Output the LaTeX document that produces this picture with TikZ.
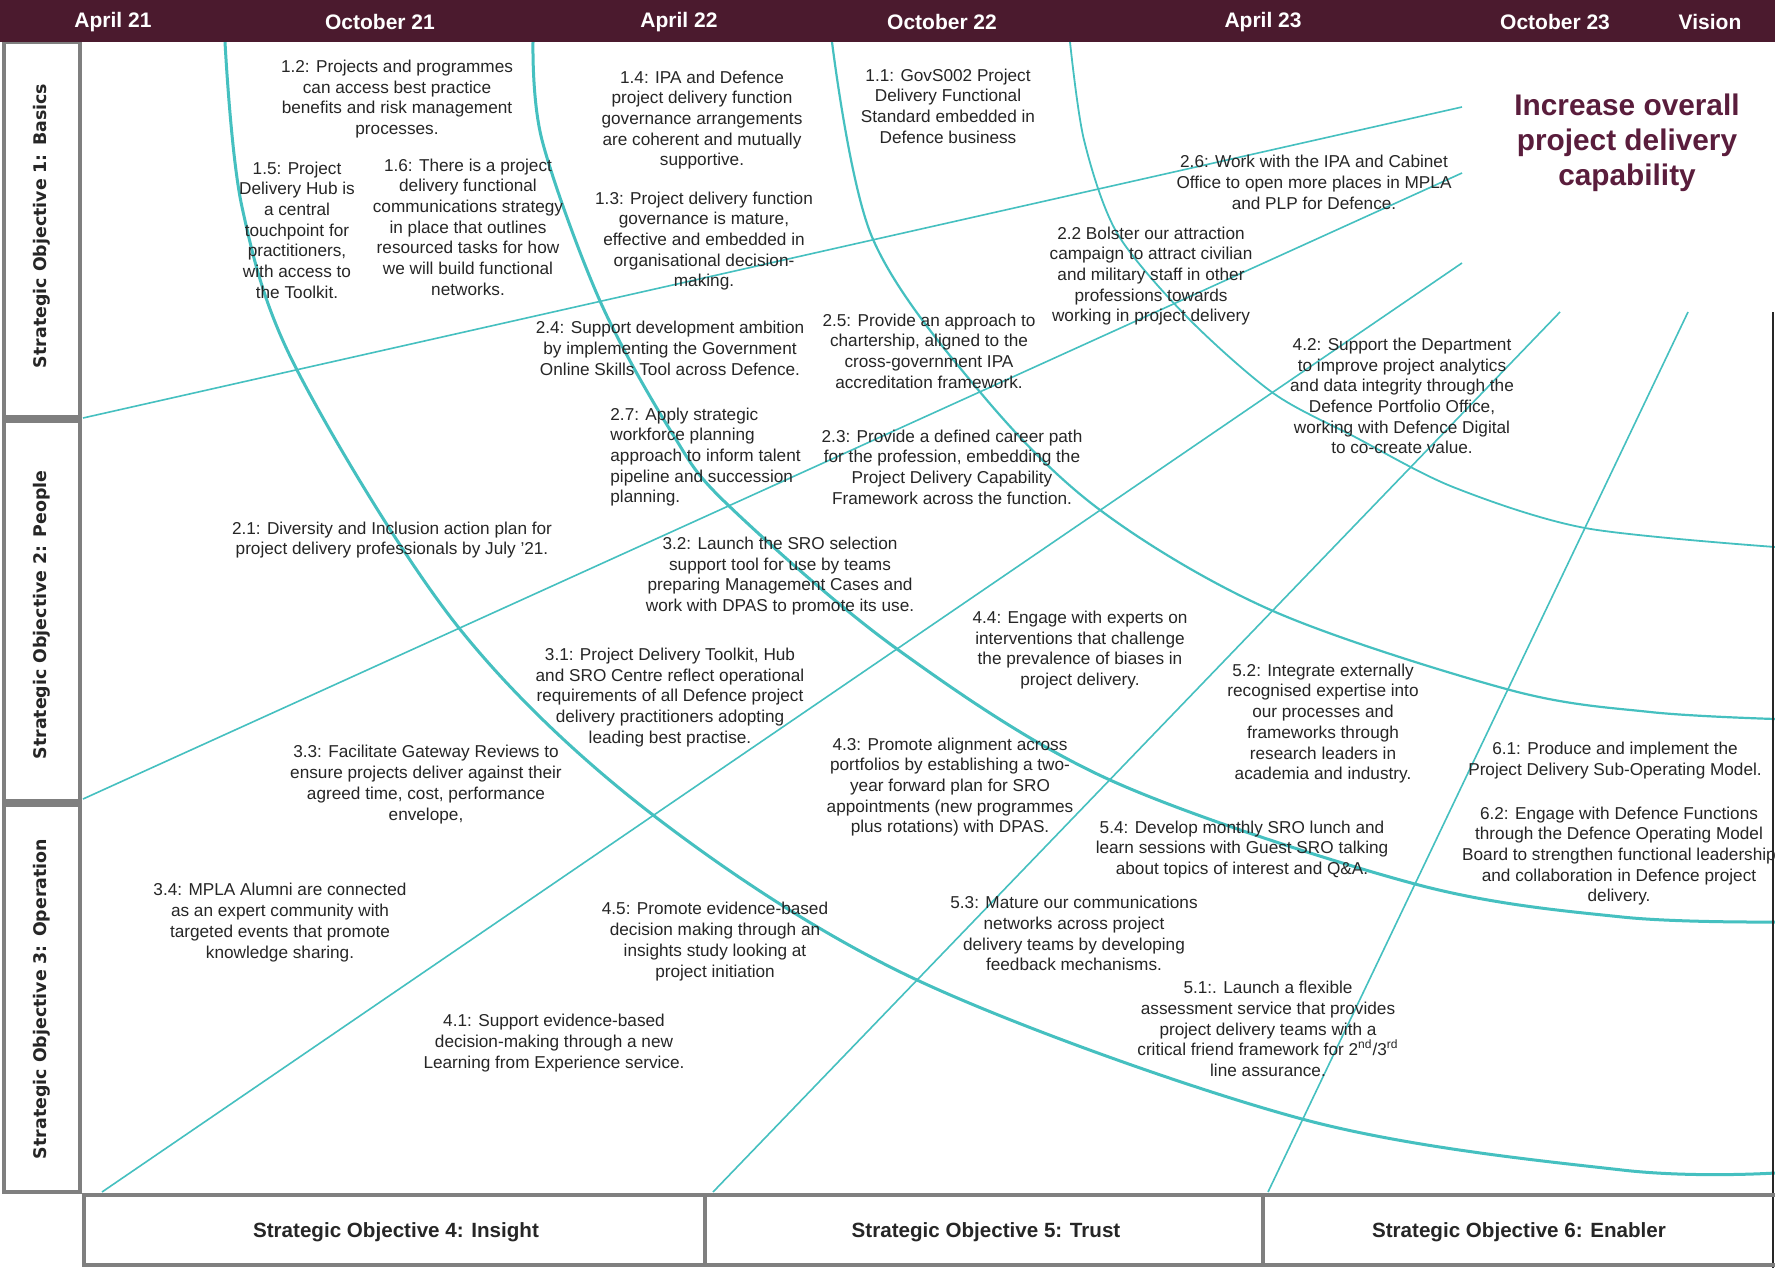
\documentclass[tikz,border=0pt]{standalone}
\usepackage{fontspec}
\setmainfont{Liberation Sans}
\newfontfamily\labfont{DejaVu Sans}
\definecolor{hdr}{HTML}{4B1A2E}
\definecolor{vis}{HTML}{5A1D3C}
\definecolor{tl}{HTML}{45C0C0}
\definecolor{bx}{HTML}{7F7F7F}
\definecolor{txt}{HTML}{262626}
\tikzset{
 item/.style={align=center, inner sep=0pt, text=txt, font=\fontsize{8.6pt}{10.35pt}\selectfont},
 month/.style={text=white, font=\fontsize{10.5pt}{12pt}\selectfont\bfseries, inner sep=0pt},
 sidebox/.style={draw=bx, line width=2pt},
 sidelab/.style={rotate=90, text=txt, font=\labfont\fontsize{8.7pt}{10pt}\selectfont\bfseries, inner sep=0pt},
 botlab/.style={text=txt, font=\fontsize{10.3pt}{12pt}\selectfont\bfseries, inner sep=0pt},
 arcthick/.style={draw=tl, line width=1.5pt},
 arcmid/.style={draw=tl, line width=1.1pt},
 arcthin/.style={draw=tl, line width=0.9pt},
 ray/.style={draw=tl, line width=0.8pt},
}
\begin{document}
\begin{tikzpicture}[x=0.5pt,y=-0.5pt]
\useasboundingbox (0,0) rectangle (1775,1268);
\fill[white] (0,0) rectangle (1775,1268);

% arcs
\draw[arcthick] plot[smooth, tension=0.55] coordinates {(225,42) (242,207) (297,370) (459,628) (653,815) (917,980) (1302,1119) (1622,1170) (1775,1173)};
\draw[arcthick] plot[smooth, tension=0.55] coordinates {(533,42) (542,140) (600,301) (672,433) (728,505) (897,649) (1110,780) (1415,884) (1622,917) (1775,922)};
\draw[arcmid] plot[smooth, tension=0.55] coordinates {(832,42) (872,237) (980,392) (1100,510) (1273,611) (1510,690) (1650,712) (1775,719)};
\draw[arcthin] plot[smooth, tension=0.5] coordinates {(1070,42) (1084,140) (1117,233) (1187,317) (1273,393) (1355,437) (1453,487) (1585,528) (1775,547)};

% rays
\draw[ray] (83,418) -- (1462,107);
\draw[ray] (83,799) -- (1462,173);
\draw[ray] (102,1192) -- (1462,263);
\draw[ray] (713,1192) -- (1560,312);
\draw[ray] (1268,1192) -- (1688,312);

% right border
\draw[black!85, line width=1pt] (1773,312) -- (1773,1268);

% side boxes
\draw[sidebox] (4,42) rectangle (80,417);
\draw[sidebox] (4,421) rectangle (80,801);
\draw[sidebox] (4,805) rectangle (80,1192);
\node[sidelab] (so1) at (42,226) {Strategic Objective 1: Basics};
\node[sidelab] (so2) at (42,615) {Strategic Objective 2: People};
\node[sidelab] (so3) at (42,999) {Strategic Objective 3: Operation};

% bottom boxes
\draw[sidebox] (84,1195) rectangle (705,1265);
\draw[sidebox] (705,1195) rectangle (1263,1265);
\draw[sidebox] (1263,1195) rectangle (1780,1265);
\node[botlab] (so4) at (396,1232) {Strategic Objective 4: Insight};
\node[botlab] (so5) at (986,1232) {Strategic Objective 5: Trust};
\node[botlab] (so6) at (1519,1232) {Strategic Objective 6: Enabler};

% header
\fill[hdr] (0,0) rectangle (1775,42);
\node[month] (m1) at (113,22) {April 21};
\node[month] (m2) at (380,22) {October 21};
\node[month] (m3) at (679,22) {April 22};
\node[month] (m4) at (942,22) {October 22};
\node[month] (m5) at (1263,22) {April 23};
\node[month] (m6) at (1555,22) {October 23};
\node[month] (m7) at (1710,22) {Vision};

\node[align=center, inner sep=0pt, text=vis, font=\fontsize{14.9pt}{17.5pt}\selectfont\bfseries] (vision) at (1627,143) {Increase overall\\project delivery\\capability};

% items
\node[item] (t12) at (397,99) {1.2: Projects and programmes\\can access best practice\\benefits and risk management\\processes.};
\node[item] (t14) at (702,120) {1.4: IPA and Defence\\project delivery function\\governance arrangements\\are coherent and mutually\\supportive.};
\node[item] (t11) at (948,106) {1.1: GovS002 Project\\Delivery Functional\\Standard embedded in\\Defence business};
\node[item] (t15) at (297,230) {1.5: Project\\Delivery Hub is\\a central\\touchpoint for\\practitioners,\\with access to\\the Toolkit.};
\node[item] (t16) at (468,227) {1.6: There is a project\\delivery functional\\communications strategy\\in place that outlines\\resourced tasks for how\\we will build functional\\networks.};
\node[item] (t13) at (704,241) {1.3: Project delivery function\\governance is mature,\\effective and embedded in\\organisational decision-\\making.};
\node[item] (t26) at (1314,182.5) {2.6: Work with the IPA and Cabinet\\Office to open more places in MPLA\\and PLP for Defence.};
\node[item] (t22) at (1151,276) {2.2 Bolster our attraction\\campaign to attract civilian\\and military staff in other\\professions towards\\working in project delivery};
\node[item] (t24) at (670,348.5) {2.4: Support development ambition\\by implementing the Government\\Online Skills Tool across Defence.};
\node[item] (t25) at (929,351) {2.5: Provide an approach to\\chartership, aligned to the\\cross-government IPA\\accreditation framework.};
\node[item] (t42) at (1402,396) {4.2: Support the Department\\to improve project analytics\\and data integrity through the\\Defence Portfolio Office,\\working with Defence Digital\\to co-create value.};
\node[item, align=left, anchor=west] (t27) at (610,457) {2.7: Apply strategic\\workforce planning\\approach to inform talent\\pipeline and succession\\planning.};
\node[item] (t23) at (952,467) {2.3: Provide a defined career path\\for the profession, embedding the\\Project Delivery Capability\\Framework across the function.};
\node[item] (t21) at (392,540) {2.1: Diversity and Inclusion action plan for\\project delivery professionals by July ’21.};
\node[item] (t32) at (780,576) {3.2: Launch the SRO selection\\support tool for use by teams\\preparing Management Cases and\\work with DPAS to promote its use.};
\node[item] (t44) at (1080,650) {4.4: Engage with experts on\\interventions that challenge\\the prevalence of biases in\\project delivery.};
\node[item] (t31) at (670,697.5) {3.1: Project Delivery Toolkit, Hub\\and SRO Centre reflect operational\\requirements of all Defence project\\delivery practitioners adopting\\leading best practise.};
\node[item] (t52) at (1323,723.5) {5.2: Integrate externally\\recognised expertise into\\our processes and\\frameworks through\\research leaders in\\academia and industry.};
\node[item] (t33) at (426,784.5) {3.3: Facilitate Gateway Reviews to\\ensure projects deliver against their\\agreed time, cost, performance\\envelope,};
\node[item] (t43) at (950,787) {4.3: Promote alignment across\\portfolios by establishing a two-\\year forward plan for SRO\\appointments (new programmes\\plus rotations) with DPAS.};
\node[item] (t61) at (1615,760.5) {6.1: Produce and implement the\\Project Delivery Sub-Operating Model.};
\node[item] (t62) at (1619,856) {6.2: Engage with Defence Functions\\through the Defence Operating Model\\Board to strengthen functional leadership\\and collaboration in Defence project\\delivery.};
\node[item] (t54) at (1242,849.5) {5.4: Develop monthly SRO lunch and\\learn sessions with Guest SRO talking\\about topics of interest and Q\&A.};
\node[item] (t34) at (280,922.5) {3.4: MPLA Alumni are connected\\as an expert community with\\targeted events that promote\\knowledge sharing.};
\node[item] (t45) at (715,941.5) {4.5: Promote evidence-based\\decision making through an\\insights study looking at\\project initiation};
\node[item] (t53) at (1074,933.5) {5.3: Mature our communications\\networks across project\\delivery teams by developing\\feedback mechanisms.};
\node[item] (t51) at (1268,1029) {5.1:. Launch a flexible\\assessment service that provides\\project delivery teams with a\\critical friend framework for 2\textsuperscript{nd}/3\textsuperscript{rd}\\line assurance.};
\node[item] (t41) at (554,1043) {4.1: Support evidence-based\\decision-making through a new\\Learning from Experience service.};
\end{tikzpicture}
\end{document}
